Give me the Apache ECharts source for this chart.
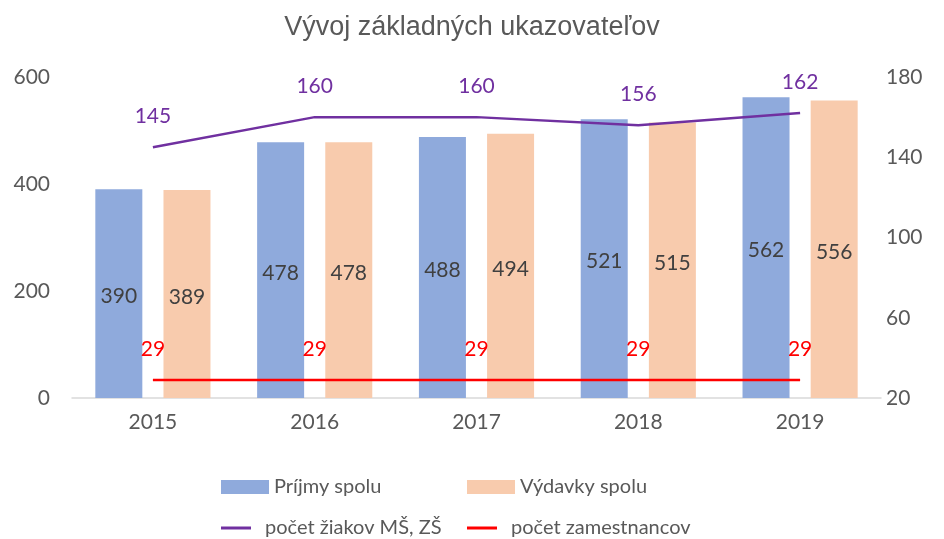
<!DOCTYPE html>
<html>
<head>
<meta charset="utf-8">
<script src="https://cdn.jsdelivr.net/npm/echarts@6/dist/echarts.min.js"></script>
<style>
  html, body { margin: 0; padding: 0; background: #fff; }
  #chart { width: 944px; height: 539px; }
</style>
</head>
<body>
<div id="chart"></div>
<script>
const years = ['2015', '2016', '2017', '2018', '2019']
const prijmy = [390, 478, 488, 521, 562]
const vydavky = [389, 478, 494, 515, 556]
const ziaci = [145, 160, 160, 156, 162]
const zamestnanci = [29, 29, 29, 29, 29]

const gray = '#595959'
const font = 'Lato, "Liberation Sans", sans-serif'

const chart = echarts.init(document.getElementById('chart'))

// one legend per item so the columns line up like the original
function legendItem(name, left, top, icon) {
  return {
    data: [name],
    left: left,
    top: top,
    icon: icon,
    itemWidth: 48,
    itemHeight: icon === 'rect' ? 14 : 3,
    itemGap: 6,
    textStyle: { color: gray, fontSize: 20, fontFamily: font },
  }
}

chart.setOption({
  title: {
    text: 'Vývoj základných ukazovateľov',
    left: 'center',
    top: 9,
    textStyle: {
      color: gray,
      fontSize: 27,
      fontWeight: 'normal',
      fontFamily: '"Liberation Sans Narrow", "Liberation Sans", sans-serif',
    },
  },
  legend: [
    legendItem('Príjmy spolu', 216, 472, 'rect'),
    legendItem('Výdavky spolu', 462, 472, 'rect'),
    legendItem('počet žiakov MŠ, ZŠ', 216, 513, 'path://M0,0 H10 V1 H0 Z'),
    legendItem('počet zamestnancov', 462, 513, 'path://M0,0 H10 V1 H0 Z'),
  ],
  grid: { left: 72, right: 63, top: 77, bottom: 141 },
  xAxis: {
    type: 'category',
    data: years,
    axisLine: { lineStyle: { color: '#d9d9d9', width: 1.5 } },
    axisTick: { show: false },
    axisLabel: { color: gray, fontSize: 21, fontFamily: font, margin: 14 },
  },
  yAxis: [
    {
      type: 'value',
      min: 0,
      max: 600,
      interval: 200,
      splitLine: { show: false },
      axisLabel: { color: gray, fontSize: 21, fontFamily: font, margin: 22 },
    },
    {
      type: 'value',
      min: 20,
      max: 180,
      interval: 40,
      splitLine: { show: false },
      axisLabel: { color: gray, fontSize: 21, fontFamily: font, margin: 5 },
    },
  ],
  series: [
    {
      name: 'Príjmy spolu',
      type: 'bar',
      data: prijmy,
      barWidth: 47,
      barGap: '45%',
      itemStyle: { color: '#8faadc' },
      label: { show: true, position: 'inside', offset: [0, 3], color: '#404040', fontSize: 21, fontFamily: font },
    },
    {
      name: 'Výdavky spolu',
      type: 'bar',
      data: vydavky,
      barWidth: 47,
      itemStyle: { color: '#f8cbad' },
      label: { show: true, position: 'inside', offset: [0, 3], color: '#404040', fontSize: 21, fontFamily: font },
    },
    {
      name: 'počet žiakov MŠ, ZŠ',
      type: 'line',
      yAxisIndex: 1,
      data: ziaci,
      symbol: 'circle',
      symbolSize: 0,
      lineStyle: { color: '#7030a0', width: 2.5 },
      itemStyle: { color: '#7030a0' },
      label: { show: true, position: 'top', distance: 20, color: '#7030a0', fontSize: 21, fontFamily: font },
    },
    {
      name: 'počet zamestnancov',
      type: 'line',
      yAxisIndex: 1,
      data: zamestnanci,
      symbol: 'circle',
      symbolSize: 0,
      lineStyle: { color: '#ff0000', width: 2.5 },
      itemStyle: { color: '#ff0000' },
      label: { show: true, position: 'top', distance: 20, color: '#ff0000', fontSize: 21, fontFamily: font },
    },
  ],
})
</script>
</body>
</html>
